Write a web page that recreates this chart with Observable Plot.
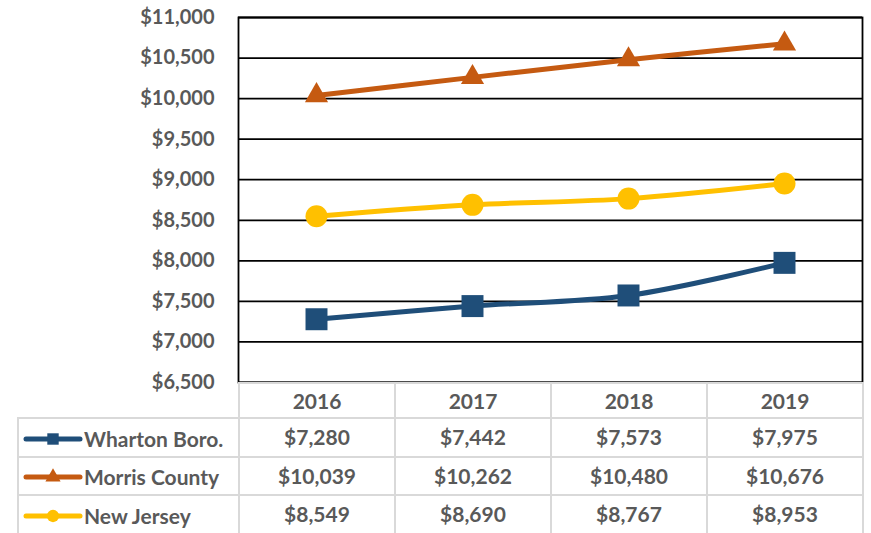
<!DOCTYPE html>
<html><head><meta charset="utf-8">
<script src="https://cdn.jsdelivr.net/npm/d3@7"></script>
<script src="https://cdn.jsdelivr.net/npm/@observablehq/plot@0.6"></script>
<style>
body{margin:0;background:#fff;font-family:Lato, sans-serif;}
#wrap{position:relative;width:871px;height:533px;overflow:hidden;background:#fff}
#wrap svg{position:absolute;left:0;top:0}
#tbl{position:absolute;left:17px;top:382px;border-collapse:collapse;table-layout:fixed;color:#595959;font-weight:bold;font-size:21px;font-family:Lato, sans-serif}
#tbl td{border:2px solid #d9d9d9;text-align:center;padding:0;height:36.5px;line-height:24px;white-space:nowrap;overflow:hidden}
#tbl td.name{text-align:left;padding-left:3px}
#tbl td.name svg{position:static;vertical-align:middle;margin-right:0px}
#tbl td.blank{border:none}
</style></head><body><div id="wrap"></div>
<script>
const years = ["2016", "2017", "2018", "2019"];
const seriesNames = ["Wharton Boro.", "Morris County", "New Jersey"];
const wharton = [7280, 7442, 7573, 7975];
const morris = [10039, 10262, 10480, 10676];
const newJersey = [8549, 8690, 8767, 8953];
const colors = ["#1F4E79", "#C55A11", "#FFC000"];
const symbols = ["square", "triangle", "circle"];
const yTicks = [6500, 7000, 7500, 8000, 8500, 9000, 9500, 10000, 10500, 11000];

const seriesValues = [wharton, morris, newJersey];
const data = seriesNames.flatMap((s, i) => seriesValues[i].map((v, j) => ({series: s, year: years[j], value: v})));
const fmt = d => "$" + d3.format(",")(d);
const radii = [12.4, 8.6, 11];

const chart = Plot.plot({
  width: 871, height: 392,
  marginLeft: 238, marginRight: 9, marginTop: 17, marginBottom: 10,
  style: {fontFamily: "Lato, sans-serif", fontSize: "20px", fontWeight: "bold", color: "#595959", background: "transparent", overflow: "visible"},
  x: {type: "point", domain: years, padding: 0.5, axis: null},
  y: {domain: [6500, 11000], ticks: yTicks, tickFormat: fmt, tickSize: 0, tickPadding: 24, label: null},
  color: {domain: seriesNames, range: colors},
  symbol: {domain: seriesNames, range: symbols},
  marks: [
    Plot.gridY(yTicks, {stroke: "#000", strokeOpacity: 1, strokeWidth: 1.8}),
    Plot.frame({stroke: "#000", strokeWidth: 1.8}),
    Plot.line(data, {x: "year", y: "value", stroke: "series", strokeWidth: 5, curve: "catmull-rom"}),
    ...seriesNames.map((s, i) => Plot.dot(data.filter(d => d.series === s), {x: "year", y: "value", fill: "series", symbol: "series", r: radii[i], stroke: "none"}))
  ]
});
const wrap = document.getElementById("wrap");
wrap.appendChild(chart);

// data table
const tbl = d3.select(wrap).append("table").attr("id", "tbl");
const cg = tbl.append("colgroup");
cg.append("col").style("width", "221px");
years.forEach(() => cg.append("col").style("width", "156px"));
const head = tbl.append("tr");
head.append("td").attr("class", "blank").style("height", "33px");
years.forEach(y => head.append("td").text(y).style("height", "33px"));
seriesNames.forEach((s, i) => {
  const tr = tbl.append("tr");
  const td = tr.append("td").attr("class", "name");
  const key = td.append("svg").attr("width", 62).attr("height", 20);
  key.append("line").attr("x1", 4).attr("x2", 58).attr("y1", 10).attr("y2", 10)
    .attr("stroke", colors[i]).attr("stroke-width", 5).attr("stroke-linecap", "round");
  key.append("path").attr("transform", "translate(31,10)")
    .attr("d", d3.symbol(i === 0 ? d3.symbolSquare : i === 1 ? d3.symbolTriangle : d3.symbolCircle, i === 0 ? 130 : i === 1 ? 100 : 120)())
    .attr("fill", colors[i]);
  td.append("span").text(s).style("vertical-align", "middle");
  seriesValues[i].forEach(v => tr.append("td").text(fmt(v)));
});
</script></body></html>
